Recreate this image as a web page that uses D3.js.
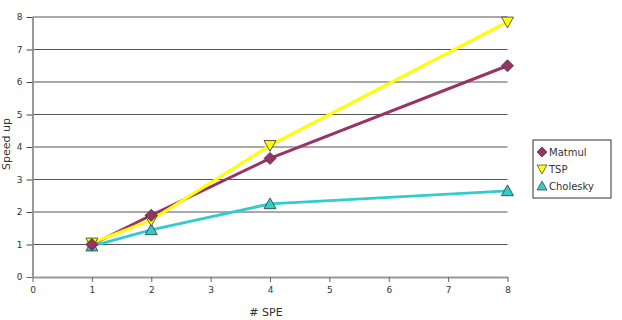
<!DOCTYPE html>
<html>
<head>
<meta charset="utf-8">
<script src="https://cdn.jsdelivr.net/npm/d3@7"></script>
<style>
  body { margin: 0; background: white; }
  svg text { font-family: "DejaVu Sans", sans-serif; fill: #333; }
</style>
</head>
<body>
<div id="container"></div>
<script>
var width = 622,
    height = 320;

// data
var spe = [1, 2, 4, 8];
var matmul = [1, 1.9, 3.65, 6.5];
var tsp = [1.05, 1.75, 4.05, 7.85];
var cholesky = [0.95, 1.45, 2.25, 2.65];
var series_names = ["Matmul", "TSP", "Cholesky"];
var x_ticks = [0, 1, 2, 3, 4, 5, 6, 7, 8];
var y_ticks = [0, 1, 2, 3, 4, 5, 6, 7, 8];

var series = [
  {name: series_names[0], values: matmul, color: "#993366", symbol: "diamond"},
  {name: series_names[1], values: tsp, color: "#ffff00", symbol: "down"},
  {name: series_names[2], values: cholesky, color: "#33cccc", symbol: "up"}
];

var svg = d3.select("#container")
            .append("svg")
            .attr("width", width)
            .attr("height", height);

var x = d3.scaleLinear().domain([0, 8]).range([32.5, 507.5]);
var y = d3.scaleLinear().domain([0, 8]).range([277, 17]);

// grid lines
svg.append("g")
   .selectAll("line")
   .data(y_ticks.filter(function(d){ return d > 0; }))
   .enter().append("line")
   .attr("x1", x(0)).attr("x2", x(8))
   .attr("y1", function(d){ return y(d); })
   .attr("y2", function(d){ return y(d); })
   .style("stroke", "#555")
   .style("stroke-width", 1.2);

// axes
var xAxis = svg.append("g")
   .attr("transform", "translate(0," + y(0) + ")")
   .call(d3.axisBottom(x).tickValues(x_ticks).tickSize(5).tickPadding(5).tickSizeOuter(0));
var yAxis = svg.append("g")
   .attr("transform", "translate(" + x(0) + ",0)")
   .call(d3.axisLeft(y).tickValues(y_ticks).tickSize(6).tickPadding(4).tickSizeOuter(0));

[xAxis, yAxis].forEach(function(a){
  a.select(".domain").style("stroke", "#999").style("stroke-width", 2);
  a.selectAll(".tick line").style("stroke", "#666");
  a.selectAll(".tick text").style("font-size", "9px").style("fill", "#333");
});
yAxis.selectAll(".tick")
     .filter(function(d){ return d > 0; })
     .select("line").style("stroke", "#444");

// axis titles
svg.append("text")
   .attr("x", 266).attr("y", 316)
   .attr("text-anchor", "middle")
   .style("font-size", "11px")
   .text("# SPE");

svg.append("text")
   .attr("transform", "translate(10,144) rotate(-90)")
   .attr("text-anchor", "middle")
   .style("font-size", "11px")
   .text("Speed up");

var line = d3.line()
  .x(function(d, i){ return x(spe[i]); })
  .y(function(d){ return y(d); });

function symbolPath(kind, s) {
  if (kind == "diamond") return "M0," + (-s) + "L" + s + ",0L0," + s + "L" + (-s) + ",0Z";
  if (kind == "down") return "M" + (-s) + "," + (-s * 0.8) + "L" + s + "," + (-s * 0.8) + "L0," + s + "Z";
  return "M" + (-s) + "," + (s * 0.8) + "L" + s + "," + (s * 0.8) + "L0," + (-s) + "Z";
}

// lines first, then markers
var lines = svg.append("g");
series.forEach(function(s){
  lines.append("path")
       .datum(s.values)
       .attr("d", line)
       .style("fill", "none")
       .style("stroke", s.color)
       .style("stroke-width", 3);
});

var marks = svg.append("g");
series.slice().reverse().forEach(function(s){
  marks.selectAll(".m-" + s.symbol)
       .data(s.values)
       .enter().append("path")
       .attr("class", "m-" + s.symbol)
       .attr("transform", function(d, i){ return "translate(" + x(spe[i]) + "," + y(d) + ")"; })
       .attr("d", symbolPath(s.symbol, 6))
       .style("fill", s.color)
       .style("stroke", "#333")
       .style("stroke-width", 0.8);
});

// legend
var key = svg.append("g").attr("transform", "translate(533,140)");
key.append("rect")
   .attr("width", 78).attr("height", 58)
   .style("fill", "white")
   .style("stroke", "#333")
   .style("stroke-width", 1);

var items = key.selectAll(".item")
   .data(series)
   .enter().append("g")
   .attr("class", "item")
   .attr("transform", function(d, i){ return "translate(9," + (12 + i * 17) + ")"; });

items.append("path")
   .attr("d", function(d){ return symbolPath(d.symbol, 5); })
   .style("fill", function(d){ return d.color; })
   .style("stroke", "#333")
   .style("stroke-width", 0.7);

items.append("text")
   .attr("x", 7).attr("y", 4)
   .style("font-size", "10px")
   .text(function(d){ return d.name; });
</script>
</body>
</html>
